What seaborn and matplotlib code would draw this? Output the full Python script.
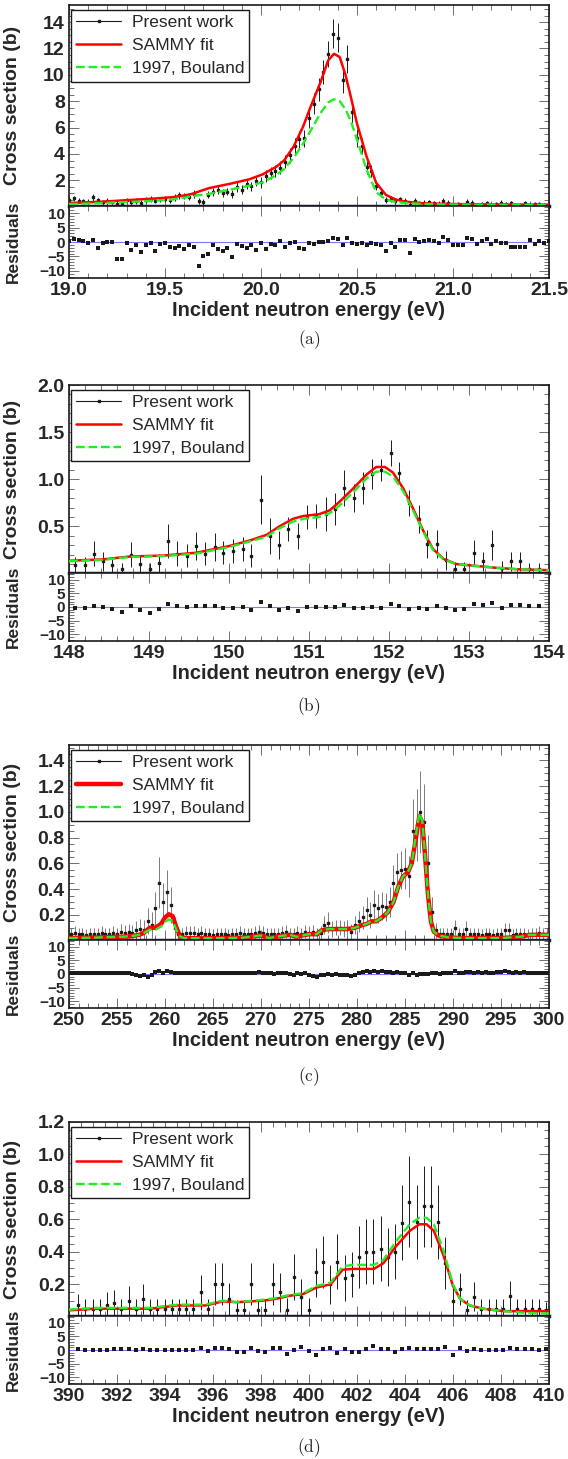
import matplotlib
matplotlib.use("Agg")
import matplotlib.pyplot as plt
import seaborn as sns
from matplotlib.lines import Line2D
from matplotlib.ticker import MultipleLocator, FormatStrFormatter

# ---------------------------------------------------------------
# Panel (a) : 19.0 - 21.5 eV
# ---------------------------------------------------------------
E_a = [19.000, 19.025, 19.050, 19.075, 19.100, 19.125, 19.150, 19.175, 19.200, 19.225,
       19.250, 19.275, 19.300, 19.325, 19.350, 19.375, 19.400, 19.425, 19.450, 19.475,
       19.500, 19.525, 19.550, 19.575, 19.600, 19.625, 19.650, 19.675, 19.700, 19.725,
       19.750, 19.775, 19.800, 19.825, 19.850, 19.875, 19.900, 19.925, 19.950, 19.975,
       20.000, 20.025, 20.050, 20.075, 20.100, 20.125, 20.150, 20.175, 20.200, 20.225,
       20.250, 20.275, 20.300, 20.325, 20.350, 20.375, 20.400, 20.425, 20.450, 20.475,
       20.500, 20.525, 20.550, 20.575, 20.600, 20.625, 20.650, 20.675, 20.700, 20.725,
       20.750, 20.775, 20.800, 20.825, 20.850, 20.875, 20.900, 20.925, 20.950, 20.975,
       21.000, 21.025, 21.050, 21.075, 21.100, 21.125, 21.150, 21.175, 21.200, 21.225,
       21.250, 21.275, 21.300, 21.325, 21.350, 21.375, 21.400, 21.425, 21.450, 21.475,
       21.500]
xs_a = [0.50, 0.62, 0.45, 0.40, 0.38, 0.70, 0.48, 0.32, 0.42, 0.35,
        0.22, 0.20, 0.48, 0.35, 0.42, 0.30, 0.52, 0.60, 0.45, 0.55,
        0.58, 0.50, 0.68, 0.85, 0.80, 0.72, 0.95, 0.45, 0.35, 0.90,
        1.10, 1.25, 1.05, 1.15, 0.95, 1.50, 1.30, 1.70, 1.55, 1.95,
        1.85, 2.30, 2.55, 2.70, 2.95, 3.40, 3.90, 4.60, 5.10, 5.20,
        6.70, 7.80, 8.90, 10.20, 11.60, 13.10, 12.80, 9.60, 11.20, 7.20,
        5.20, 4.60, 3.00, 2.70, 1.60, 1.00, 0.50, 0.60, 0.40, 0.55,
        0.45, 0.15, 0.45, 0.28, 0.30, 0.32, 0.28, 0.22, 0.45, 0.30,
        0.15, 0.18, 0.12, 0.35, 0.30, 0.15, 0.20, 0.28, 0.12, 0.22,
        0.30, 0.18, 0.25, 0.10, 0.12, 0.28, 0.15, 0.22, 0.18, 0.12,
        0.20]
err_a = [0.20, 0.22, 0.20, 0.20, 0.20, 0.25, 0.20, 0.18, 0.20, 0.18,
         0.18, 0.18, 0.20, 0.20, 0.20, 0.18, 0.22, 0.22, 0.20, 0.22,
         0.22, 0.22, 0.25, 0.25, 0.25, 0.25, 0.28, 0.22, 0.20, 0.28,
         0.30, 0.30, 0.30, 0.30, 0.30, 0.35, 0.35, 0.35, 0.35, 0.40,
         0.40, 0.45, 0.45, 0.45, 0.50, 0.50, 0.55, 0.60, 0.65, 0.65,
         0.75, 0.80, 0.85, 0.90, 1.00, 1.10, 1.10, 0.95, 1.05, 0.85,
         0.70, 0.60, 0.50, 0.45, 0.35, 0.30, 0.25, 0.22, 0.22, 0.20,
         0.22, 0.18, 0.20, 0.18, 0.18, 0.18, 0.18, 0.18, 0.20, 0.18,
         0.15, 0.15, 0.15, 0.20, 0.18, 0.15, 0.15, 0.18, 0.15, 0.15,
         0.18, 0.15, 0.15, 0.12, 0.12, 0.18, 0.15, 0.15, 0.15, 0.12,
         0.15]
res_a = [0.3, 1.0, 0.6, 0.2, -0.3, 0.8, -2.0, -0.2, 0.0, -0.1,
         -5.8, -5.8, -0.5, -2.8, -1.2, -3.5, -1.0, -0.4, -3.0, -0.8,
         -0.2, -1.8, -2.2, -1.5, -2.5, -1.0, -1.6, -8.2, -5.0, -4.3,
         -1.2, -2.5, -3.2, -2.2, -5.2, -0.8, -1.5, -2.0, -1.0, -2.8,
         -0.5, -2.5, -0.8, -1.2, 0.2, -1.8, -0.5, 0.0, -2.2, -2.5,
         -0.3, -0.8, 0.1, 0.0, 0.4, 1.5, 1.2, -1.2, 1.5, -0.4,
         -0.6, -0.2, -1.2, -0.2, -0.8, -1.0, -3.2, -0.5, -1.8, 0.8,
         0.6, -3.8, 1.0, 0.0, 0.2, 0.8, 0.4, -0.5, 1.8, 0.8,
         -1.2, -1.0, -1.2, 1.4, 1.0, -0.8, 0.2, 1.2, -0.6, 0.5,
         -0.5, -0.2, -1.8, -1.8, -1.8, -1.6, 0.6, -0.6, 0.3, -0.4,
         0.5]
Ef_a = [19.00, 19.10, 19.20, 19.32, 19.45, 19.54, 19.60, 19.64, 19.73, 19.84, 19.94,
        20.01, 20.08, 20.12, 20.17, 20.22, 20.26, 20.31, 20.35, 20.38, 20.41, 20.44,
        20.47, 20.50, 20.55, 20.60, 20.65, 20.70, 20.75, 20.85, 21.00, 21.25, 21.50]
sammy_a = [0.28, 0.33, 0.40, 0.51, 0.62, 0.72, 0.85, 0.97, 1.41, 1.74, 2.08,
           2.46, 3.03, 3.50, 4.56, 6.10, 7.64, 9.44, 11.10, 11.60, 11.35, 10.00,
           8.20, 6.30, 3.80, 1.80, 0.90, 0.55, 0.38, 0.25, 0.20, 0.16, 0.15]
bouland_a = [0.20, 0.24, 0.29, 0.36, 0.45, 0.55, 0.68, 0.80, 0.97, 1.30, 1.60,
             1.85, 2.40, 2.85, 3.70, 4.80, 5.80, 7.10, 7.90, 8.15, 8.00, 7.40,
             6.40, 5.10, 2.80, 1.10, 0.55, 0.35, 0.28, 0.20, 0.16, 0.14, 0.13]

# ---------------------------------------------------------------
# Panel (b) : 148 - 154 eV
# ---------------------------------------------------------------
E_b = [148.08, 148.20, 148.31, 148.43, 148.54, 148.66, 148.78, 148.89, 149.01, 149.12,
       149.24, 149.35, 149.47, 149.59, 149.70, 149.82, 149.93, 150.05, 150.17, 150.28,
       150.40, 150.51, 150.63, 150.74, 150.86, 150.98, 151.09, 151.21, 151.32, 151.44,
       151.56, 151.67, 151.79, 151.90, 152.02, 152.13, 152.25, 152.37, 152.48, 152.60,
       152.71, 152.83, 152.94, 153.06, 153.18, 153.29, 153.41, 153.52, 153.64, 153.75,
       153.87]
xs_b = [0.09, 0.09, 0.21, 0.13, 0.09, 0.05, 0.20, 0.10, 0.05, 0.11,
        0.34, 0.21, 0.19, 0.29, 0.21, 0.28, 0.22, 0.24, 0.26, 0.19,
        0.78, 0.40, 0.30, 0.47, 0.40, 0.60, 0.61, 0.63, 0.68, 0.91,
        0.80, 0.91, 1.06, 1.10, 1.28, 1.07, 0.75, 0.58, 0.31, 0.31,
        0.14, 0.05, 0.05, 0.22, 0.13, 0.30, 0.06, 0.13, 0.13, 0.05,
        0.05]
err_b = [0.08, 0.08, 0.13, 0.10, 0.08, 0.06, 0.13, 0.09, 0.06, 0.10,
         0.18, 0.13, 0.12, 0.15, 0.12, 0.15, 0.12, 0.13, 0.13, 0.12,
         0.26, 0.19, 0.15, 0.13, 0.14, 0.13, 0.13, 0.18, 0.17, 0.19,
         0.15, 0.17, 0.16, 0.12, 0.14, 0.11, 0.14, 0.15, 0.15, 0.15,
         0.10, 0.07, 0.07, 0.13, 0.10, 0.16, 0.07, 0.10, 0.10, 0.06,
         0.06]
res_b = [-0.5, -0.5, 0.5, 0.0, -0.8, -2.0, 0.3, -1.0, -2.2, -0.8,
         1.0, 0.3, 0.0, 0.5, 0.2, 0.5, -0.2, -0.2, 0.0, -1.0,
         1.7, 0.2, -1.2, -0.5, -1.5, 0.0, 0.0, 0.0, 0.0, 0.8,
         -0.2, -0.3, 0.0, -0.2, 1.0, 0.2, -0.8, -0.5, -0.8, 0.3,
         -0.3, -1.2, -0.8, 1.0, 0.6, 1.5, -0.2, 0.8, 0.8, 0.2,
         0.5]
Ef_b = [148.0, 148.43, 148.76, 149.18, 149.59, 150.0, 150.26, 150.47, 150.63, 150.80,
        150.93, 151.13, 151.26, 151.38, 151.55, 151.72, 151.84, 151.95, 152.05, 152.18,
        152.30, 152.43, 152.55, 152.68, 152.84, 153.09, 153.34, 153.6, 154.0]
sammy_b = [0.135, 0.15, 0.18, 0.19, 0.22, 0.29, 0.35, 0.41, 0.50, 0.58,
           0.61, 0.63, 0.67, 0.76, 0.90, 1.05, 1.13, 1.13, 1.07, 0.90,
           0.69, 0.45, 0.26, 0.155, 0.10, 0.08, 0.06, 0.045, 0.035]
bouland_b = [0.13, 0.145, 0.175, 0.185, 0.21, 0.28, 0.34, 0.39, 0.48, 0.55,
             0.58, 0.60, 0.64, 0.72, 0.86, 1.01, 1.08, 1.08, 1.03, 0.87,
             0.67, 0.44, 0.25, 0.15, 0.10, 0.08, 0.06, 0.045, 0.035]

# ---------------------------------------------------------------
# Panel (c) : 250 - 300 eV
# ---------------------------------------------------------------
E_c = [250.2, 250.6, 251.0, 251.4, 251.8, 252.2, 252.6, 253.0, 253.4, 253.8,
       254.2, 254.6, 255.0, 255.4, 255.8, 256.2, 256.6, 257.0, 257.4, 257.8,
       258.2, 258.6, 259.0, 259.4, 259.8, 260.2, 260.6, 261.0, 261.4, 261.8,
       262.2, 262.6, 263.0, 263.4, 263.8, 264.2, 264.6, 265.0, 265.4, 265.8,
       266.2, 266.6, 267.0, 267.4, 267.8, 268.2, 268.6, 269.0, 269.4, 269.8,
       270.2, 270.6, 271.0, 271.4, 271.8, 272.2, 272.6, 273.0, 273.4, 273.8,
       274.2, 274.6, 275.0, 275.4, 275.8, 276.2, 276.6, 277.0, 277.4, 277.8,
       278.2, 278.6, 279.0, 279.4, 279.8, 280.2, 280.6, 281.0, 281.4, 281.8,
       282.2, 282.6, 283.0, 283.4, 283.8, 284.2, 284.6, 285.0, 285.4, 285.8,
       286.2, 286.6, 287.0, 287.4, 287.8, 288.2, 288.6, 289.0, 289.4, 289.8,
       290.2, 290.6, 291.0, 291.4, 291.8, 292.2, 292.6, 293.0, 293.4, 293.8,
       294.2, 294.6, 295.0, 295.4, 295.8, 296.2, 296.6, 297.0, 297.4, 297.8,
       298.2, 298.6, 299.0, 299.4, 299.8]
xs_c = [0.05, 0.06, 0.05, 0.05, 0.04, 0.05, 0.05, 0.05, 0.06, 0.05,
        0.05, 0.06, 0.05, 0.07, 0.06, 0.07, 0.06, 0.08, 0.09, 0.08,
        0.15, 0.12, 0.25, 0.45, 0.30, 0.38, 0.28, 0.10, 0.05, 0.05,
        0.06, 0.06, 0.06, 0.05, 0.06, 0.05, 0.05, 0.04, 0.05, 0.05,
        0.05, 0.04, 0.05, 0.05, 0.06, 0.05, 0.05, 0.05, 0.06, 0.07,
        0.06, 0.05, 0.05, 0.05, 0.05, 0.06, 0.07, 0.05, 0.05, 0.06,
        0.05, 0.07, 0.06, 0.07, 0.05, 0.06, 0.12, 0.14, 0.09, 0.10,
        0.10, 0.09, 0.10, 0.07, 0.12, 0.15, 0.18, 0.24, 0.20, 0.28,
        0.25, 0.27, 0.26, 0.30, 0.45, 0.53, 0.55, 0.56, 0.50, 0.85,
        0.90, 1.00, 0.92, 0.60, 0.22, 0.08, 0.05, 0.05, 0.05, 0.05,
        0.10, 0.05, 0.05, 0.09, 0.05, 0.05, 0.05, 0.04, 0.05, 0.05,
        0.04, 0.05, 0.05, 0.08, 0.08, 0.04, 0.05, 0.05, 0.05, 0.04,
        0.05, 0.05, 0.06, 0.05, 0.05]
err_c = [0.05, 0.05, 0.05, 0.05, 0.05, 0.05, 0.05, 0.05, 0.05, 0.05,
         0.05, 0.05, 0.05, 0.06, 0.06, 0.06, 0.06, 0.07, 0.08, 0.08,
         0.10, 0.10, 0.13, 0.20, 0.15, 0.17, 0.14, 0.08, 0.05, 0.05,
         0.05, 0.05, 0.05, 0.05, 0.05, 0.05, 0.05, 0.05, 0.05, 0.05,
         0.05, 0.05, 0.05, 0.05, 0.05, 0.05, 0.05, 0.05, 0.05, 0.05,
         0.05, 0.05, 0.05, 0.05, 0.05, 0.05, 0.05, 0.05, 0.05, 0.05,
         0.05, 0.05, 0.05, 0.05, 0.05, 0.05, 0.07, 0.08, 0.06, 0.06,
         0.06, 0.06, 0.06, 0.06, 0.07, 0.08, 0.09, 0.10, 0.10, 0.11,
         0.11, 0.11, 0.11, 0.12, 0.14, 0.15, 0.15, 0.16, 0.16, 0.25,
         0.28, 0.32, 0.30, 0.22, 0.12, 0.06, 0.05, 0.05, 0.05, 0.05,
         0.06, 0.05, 0.05, 0.06, 0.05, 0.05, 0.05, 0.05, 0.05, 0.05,
         0.05, 0.05, 0.05, 0.06, 0.06, 0.05, 0.05, 0.05, 0.05, 0.05,
         0.05, 0.05, 0.05, 0.05, 0.05]
res_c = [0.3, 0.4, 0.3, 0.3, 0.2, 0.3, 0.3, 0.3, 0.4, 0.3,
         0.3, 0.4, 0.2, 0.3, 0.2, 0.2, 0.0, -0.3, -0.8, -0.5,
         -1.0, -0.2, 0.8, 1.2, 0.5, 1.0, 0.6, 0.5, 0.3, 0.4,
         0.4, 0.5, 0.4, 0.3, 0.5, 0.3, 0.4, 0.2, 0.3, 0.3,
         0.3, 0.2, 0.3, 0.3, 0.4, 0.3, 0.3, 0.4, 0.5, 0.7,
         0.5, 0.3, 0.2, 0.1, 0.2, 0.3, 0.4, 0.0, -0.2, 0.3,
         -0.1, 0.2, -0.3, -0.6, -1.0, -0.3, -0.2, 0.0, -0.2, 0.0,
         -0.2, -0.2, -0.3, -0.6, -0.2, 0.3, 0.7, 1.2, 0.6, 1.0,
         0.8, 1.1, 0.7, 0.9, 0.3, 0.6, 0.5, 0.3, -0.2, 0.2,
         -0.2, 0.1, 0.0, -0.1, 0.3, 0.2, 0.1, 0.2, 0.3, 0.2,
         1.0, 0.5, 0.4, 0.9, 0.6, 0.4, 0.7, 0.5, 0.6, 0.5,
         0.4, 0.6, 0.8, 1.0, 0.8, 0.4, 0.6, 0.5, 0.6, 0.4,
         0.5, 0.3, 0.4, 0.3, 0.2]
Ef_c = [250.0, 252.0, 254.0, 255.5, 256.5, 257.3, 257.8, 258.4, 259.0, 259.6,
        260.0, 260.4, 260.8, 261.2, 261.6, 262.0, 264.0, 266.0, 268.0, 269.0,
        270.0, 270.8, 272.0, 273.0, 273.7, 274.3, 275.0, 275.8, 276.3, 277.0,
        278.0, 279.0, 279.8, 280.5, 281.0, 281.5, 282.0, 282.6, 283.2, 283.8,
        284.3, 284.8, 285.3, 285.7, 286.1, 286.5, 286.8, 287.1, 287.4, 287.7,
        288.0, 288.5, 289.5, 291.0, 293.0, 295.0, 297.0, 298.0, 300.0]
sammy_c = [0.02, 0.022, 0.027, 0.03, 0.035, 0.045, 0.06, 0.10, 0.10, 0.13,
           0.18, 0.205, 0.19, 0.10, 0.03, 0.02, 0.018, 0.02, 0.022, 0.03,
           0.04, 0.02, 0.035, 0.045, 0.03, 0.04, 0.05, 0.05, 0.08, 0.09,
           0.09, 0.09, 0.10, 0.12, 0.13, 0.15, 0.15, 0.18, 0.22, 0.30,
           0.42, 0.50, 0.53, 0.60, 0.78, 0.97, 0.92, 0.65, 0.35, 0.15,
           0.07, 0.04, 0.025, 0.02, 0.02, 0.02, 0.03, 0.045, 0.045]
bouland_c = [0.02, 0.022, 0.027, 0.03, 0.035, 0.045, 0.06, 0.085, 0.085, 0.11,
             0.145, 0.165, 0.155, 0.08, 0.03, 0.02, 0.018, 0.02, 0.022, 0.03,
             0.04, 0.02, 0.035, 0.045, 0.03, 0.04, 0.05, 0.05, 0.08, 0.09,
             0.09, 0.09, 0.10, 0.12, 0.13, 0.15, 0.15, 0.18, 0.22, 0.30,
             0.42, 0.50, 0.53, 0.60, 0.80, 0.99, 0.93, 0.65, 0.35, 0.15,
             0.07, 0.04, 0.025, 0.02, 0.02, 0.02, 0.03, 0.045, 0.045]

# ---------------------------------------------------------------
# Panel (d) : 390 - 410 eV
# ---------------------------------------------------------------
E_d = [390.38, 390.68, 390.98, 391.28, 391.58, 391.88, 392.18, 392.48, 392.78, 393.08,
       393.38, 393.68, 393.98, 394.28, 394.58, 394.88, 395.18, 395.48, 395.78, 396.08,
       396.38, 396.68, 396.98, 397.28, 397.58, 397.88, 398.18, 398.48, 398.78, 399.08,
       399.38, 399.68, 399.98, 400.28, 400.58, 400.88, 401.18, 401.48, 401.78, 402.08,
       402.38, 402.68, 402.98, 403.28, 403.58, 403.88, 404.18, 404.48, 404.78, 405.08,
       405.38, 405.68, 405.98, 406.28, 406.58, 406.88, 407.18, 407.48, 407.78, 408.08,
       408.38, 408.68, 408.98, 409.28, 409.58, 409.88]
xs_d = [0.07, 0.05, 0.05, 0.05, 0.07, 0.085, 0.05, 0.10, 0.05, 0.11,
        0.05, 0.05, 0.05, 0.05, 0.05, 0.05, 0.05, 0.15, 0.05, 0.20,
        0.20, 0.11, 0.045, 0.045, 0.20, 0.045, 0.045, 0.20, 0.15, 0.045,
        0.245, 0.12, 0.045, 0.275, 0.335, 0.20, 0.34, 0.24, 0.26, 0.37,
        0.40, 0.40, 0.42, 0.37, 0.40, 0.58, 0.71, 0.585, 0.68, 0.68,
        0.585, 0.33, 0.10, 0.17, 0.045, 0.125, 0.05, 0.05, 0.05, 0.05,
        0.13, 0.05, 0.05, 0.05, 0.05, 0.04]
err_d = [0.07, 0.06, 0.06, 0.06, 0.08, 0.08, 0.06, 0.09, 0.06, 0.09,
         0.06, 0.06, 0.06, 0.06, 0.06, 0.06, 0.06, 0.11, 0.06, 0.13,
         0.13, 0.10, 0.06, 0.06, 0.13, 0.06, 0.06, 0.13, 0.12, 0.07,
         0.14, 0.11, 0.07, 0.15, 0.16, 0.12, 0.17, 0.14, 0.14, 0.19,
         0.20, 0.20, 0.20, 0.18, 0.17, 0.23, 0.28, 0.23, 0.25, 0.25,
         0.23, 0.16, 0.08, 0.10, 0.06, 0.09, 0.06, 0.06, 0.06, 0.06,
         0.09, 0.06, 0.06, 0.06, 0.06, 0.05]
res_d = [0.2, 0.1, 0.0, 0.0, 0.1, 0.2, 0.2, 0.2, 0.0, 0.5,
         0.0, 0.0, 0.0, 0.0, 0.0, 0.0, 0.0, 0.8, -0.5, 0.8,
         0.8, 0.5, -0.6, -0.6, 0.8, -0.5, -0.6, 0.8, 0.9, -1.3,
         0.0, 1.2, -0.3, -1.8, 0.5, 0.7, -1.2, 0.3, -0.8, -0.8,
         0.3, 1.3, 0.3, 0.3, -0.6, 0.3, 0.8, 0.2, 0.3, 0.3,
         0.3, 1.0, -1.8, 0.8, -0.5, 0.3, 0.0, 0.0, 0.0, 0.0,
         0.6, 0.2, 0.2, 0.2, 0.1, 0.2]
Ef_d = [390.0, 391.1, 393.4, 394.5, 395.7, 396.4, 397.0, 398.1, 398.6, 399.2,
        399.75, 400.3, 400.9, 401.4, 401.8, 402.7, 403.1, 403.6, 404.2, 404.6,
        404.9, 405.2, 405.6, 406.0, 406.3, 406.7, 407.25, 407.8, 408.1, 409.0, 410.0]
sammy_d = [0.04, 0.05, 0.05, 0.07, 0.07, 0.095, 0.09, 0.10, 0.11, 0.13,
           0.14, 0.18, 0.20, 0.29, 0.295, 0.295, 0.33, 0.43, 0.53, 0.57,
           0.57, 0.53, 0.38, 0.19, 0.11, 0.07, 0.05, 0.04, 0.035, 0.035, 0.035]
bouland_d = [0.045, 0.055, 0.055, 0.075, 0.075, 0.10, 0.09, 0.105, 0.115, 0.135,
             0.145, 0.19, 0.21, 0.31, 0.32, 0.32, 0.35, 0.46, 0.57, 0.61,
             0.61, 0.57, 0.41, 0.20, 0.11, 0.07, 0.05, 0.04, 0.035, 0.025, 0.02]

labels = ["Present work", "SAMMY fit", "1997, Bouland"]

# ---------------------------------------------------------------
# Style
# ---------------------------------------------------------------
sns.set_theme(style="ticks")
plt.rcParams["font.family"] = ["Liberation Sans", "DejaVu Sans"]
plt.rcParams["font.weight"] = "bold"
plt.rcParams["axes.labelweight"] = "bold"
plt.rcParams["mathtext.fontset"] = "cm"

RED = "#ff0000"
GREEN = "#22ee22"
W, H = 568, 1459
L, R = 69, 549

panels = [
    dict(E=E_a, y=xs_a, err=err_a, res=res_a, Ef=Ef_a, red=sammy_a, green=bouland_a,
         xlim=(19.0, 21.5), ylim=(0.05, 15.3), xmaj=0.5, xmin=0.1, ymaj=2, ymin=0.5,
         xfmt="%.1f", top=5, mid=206, bot=278, cap_y=340, cap="(a)", red_lw=1.8, ecol="k", elw=0.7),
    dict(E=E_b, y=xs_b, err=err_b, res=res_b, Ef=Ef_b, red=sammy_b, green=bouland_b,
         xlim=(148, 154), ylim=(0.005, 2.0), xmaj=1, xmin=0.2, ymaj=0.5, ymin=0.1,
         xfmt="%d", top=385, mid=573, bot=641, cap_y=707, cap="(b)", red_lw=1.8, ecol="k", elw=0.7),
    dict(E=E_c, y=xs_c, err=err_c, res=res_c, Ef=Ef_c, red=sammy_c, green=bouland_c,
         xlim=(250, 300), ylim=(0.005, 1.52), xmaj=5, xmin=1, ymaj=0.2, ymin=0.05,
         xfmt="%d", top=745, mid=940, bot=1008, cap_y=1077, cap="(c)", red_lw=3.2, ecol="0.4", elw=0.6),
    dict(E=E_d, y=xs_d, err=err_d, res=res_d, Ef=Ef_d, red=sammy_d, green=bouland_d,
         xlim=(390, 410), ylim=(0.005, 1.2), xmaj=2, xmin=0.5, ymaj=0.2, ymin=0.05,
         xfmt="%d", top=1122, mid=1316, bot=1384, cap_y=1448, cap="(d)", red_lw=1.8, ecol="k", elw=0.7),
]

fig = plt.figure(figsize=(W / 100, H / 100), dpi=100)

for p in panels:
    for key in ("y", "err", "res"):
        if len(p[key]) != len(p["E"]):
            raise ValueError(f"{p['cap']} {key}: {len(p[key])} vs {len(p['E'])}")
    if not (len(p["Ef"]) == len(p["red"]) == len(p["green"])):
        raise ValueError(f"{p['cap']} curves")

    ax = fig.add_axes([L / W, 1 - p["mid"] / H, (R - L) / W, (p["mid"] - p["top"]) / H])
    axr = fig.add_axes([L / W, 1 - p["bot"] / H, (R - L) / W, (p["bot"] - p["mid"]) / H], sharex=ax)

    # data with error bars
    ax.errorbar(p["E"], p["y"], yerr=p["err"], fmt="s", ms=1.8, color="k",
                ecolor=p["ecol"], elinewidth=p["elw"], capsize=0, zorder=2)
    # fits
    sns.lineplot(x=p["Ef"], y=p["red"], ax=ax, color=RED, lw=p["red_lw"], zorder=3)
    sns.lineplot(x=p["Ef"], y=p["green"], ax=ax, color=GREEN, lw=1.7, ls="--", zorder=4)

    ax.set_xlim(*p["xlim"])
    ax.set_ylim(*p["ylim"])
    ax.xaxis.set_major_locator(MultipleLocator(p["xmaj"]))
    ax.xaxis.set_minor_locator(MultipleLocator(p["xmin"]))
    ax.xaxis.set_major_formatter(FormatStrFormatter(p["xfmt"]))
    ax.yaxis.set_major_locator(MultipleLocator(p["ymaj"]))
    ax.yaxis.set_minor_locator(MultipleLocator(p["ymin"]))
    if p["ymaj"] < 1:
        ax.yaxis.set_major_formatter(FormatStrFormatter("%.1f"))
    ax.set_ylabel("Cross section (b)", fontsize=14)
    ax.yaxis.set_label_coords(-0.1, 0.5)
    ax.set_xlabel("")

    handles = [Line2D([], [], color="k", lw=0.8, marker="s", ms=2),
               Line2D([], [], color=RED, lw=p["red_lw"]),
               Line2D([], [], color=GREEN, lw=1.7, ls="--")]
    leg = ax.legend(handles, labels, loc="upper left", bbox_to_anchor=(0.004, 0.975),
                    borderaxespad=0, frameon=True, fancybox=False, framealpha=1,
                    edgecolor="k", prop={"size": 12.5, "weight": "normal"},
                    handlelength=2.6, handletextpad=0.6, borderpad=0.3, labelspacing=0.45)
    leg.get_frame().set_linewidth(1.0)

    # residuals
    axr.axhline(0, color="#7777ff", lw=0.8, zorder=1)
    sns.scatterplot(x=p["E"], y=p["res"], ax=axr, color="k", s=7, marker="s",
                    linewidth=0, zorder=2)
    axr.set_ylim(-12.5, 12.5)
    axr.yaxis.set_major_locator(MultipleLocator(5))
    axr.yaxis.set_minor_locator(MultipleLocator(1))
    axr.set_ylabel("Residuals", fontsize=12.5)
    axr.yaxis.set_label_coords(-0.1, 0.5)
    axr.set_xlabel("Incident neutron energy (eV)", fontsize=14.5, labelpad=1)

    for a in (ax, axr):
        a.tick_params(which="both", direction="in", top=True, right=True,
                      width=0.6, color="0.35")
        a.tick_params(which="major", length=7)
        a.tick_params(which="minor", length=3.5)
        for s in a.spines.values():
            s.set_linewidth(1.2)
            s.set_color("k")
    ax.tick_params(axis="x", labelbottom=False)
    ax.tick_params(axis="y", labelsize=14, pad=3)
    axr.tick_params(axis="y", labelsize=11, pad=3)
    axr.tick_params(axis="x", labelsize=14, pad=3)
    ax.spines["bottom"].set_linewidth(2.5)
    ax.spines["bottom"].set_color("#1c1c55")

    fig.text((L + R) / 2 / W, 1 - p["cap_y"] / H, r"$\mathrm{" + p["cap"] + "}$",
             ha="center", va="center", fontsize=12.5, fontweight="normal")

fig.savefig("out.png", dpi=100)
